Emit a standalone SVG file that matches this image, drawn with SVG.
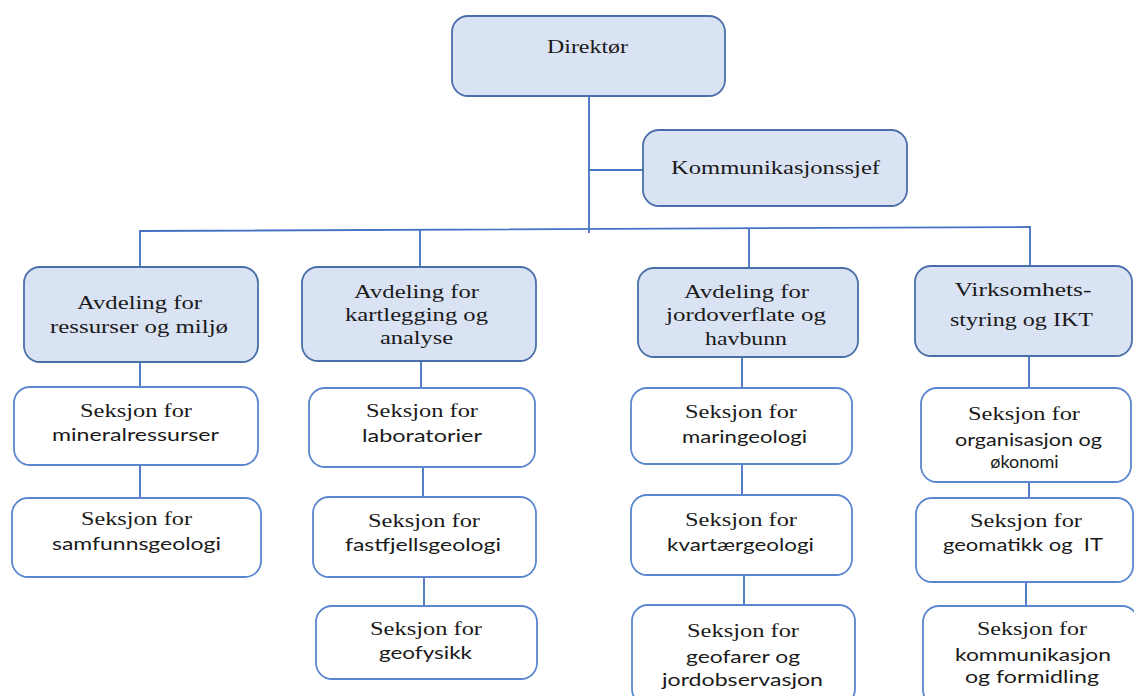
<svg xmlns="http://www.w3.org/2000/svg" width="1134" height="696" viewBox="0 0 1134 696">
  <style>
    .lead { fill: #dae3f3; stroke: #4a6fa8; stroke-width: 1.8; }
    .sect { fill: #ffffff; stroke: #5b87d0; stroke-width: 1.8; }
    .link { fill: none; stroke: #4472c4; stroke-width: 1.8; }
    text { fill: #1a1a1a; text-anchor: middle; }
    .sf { font-family: "Liberation Serif", "Times New Roman", serif; font-size: 18px; }
    .ss { font-family: Lato, "Liberation Sans", Arial, sans-serif; font-size: 18px; }
    .big { font-size: 19px; }
  </style>
  <rect width="1134" height="696" fill="#ffffff"/>

  <!-- connectors -->
  <g id="connectors">
    <path class="link" d="M589 96 V233"/>
    <path class="link" d="M589 170 H643"/>
    <path class="link" d="M140 268 V231 L1030 227 V266"/>
    <path class="link" d="M420 230 V267"/>
    <path class="link" d="M749 228 V268"/>
    <path class="link" d="M140 363 V387 M140 465 V498"/>
    <path class="link" d="M421 361 V388 M423 467 V497 M424 577 V606"/>
    <path class="link" d="M742 357 V388 M742 464 V495 M744 575 V605"/>
    <path class="link" d="M1029 356 V388 M1029 482 V498 M1026 582 V606"/>
  </g>

  <g id="direktor">
    <rect class="lead" x="452" y="16" width="273" height="80" rx="16"/>
    <text class="sf big" x="587.5" y="53" textLength="81" lengthAdjust="spacingAndGlyphs">Direktør</text>
  </g>
  <g id="kommunikasjonssjef">
    <rect class="lead" x="643" y="130" width="264" height="76" rx="16"/>
    <text class="sf big" x="775.5" y="174" textLength="209" lengthAdjust="spacingAndGlyphs">Kommunikasjonssjef</text>
  </g>

  <!-- departments -->
  <g id="avd-ressurser">
    <rect class="lead" x="24" y="267" width="234" height="95" rx="16"/>
    <text class="sf big" x="139.5" y="309" textLength="125" lengthAdjust="spacingAndGlyphs">Avdeling for</text>
    <text class="sf big" x="139" y="333" textLength="178" lengthAdjust="spacingAndGlyphs">ressurser og miljø</text>
  </g>
  <g id="avd-kartlegging">
    <rect class="lead" x="302" y="267" width="234" height="94" rx="16"/>
    <text class="sf big" x="416.5" y="298" textLength="125" lengthAdjust="spacingAndGlyphs">Avdeling for</text>
    <text class="sf big" x="416.5" y="321" textLength="143" lengthAdjust="spacingAndGlyphs">kartlegging og</text>
    <text class="sf big" x="416.5" y="344" textLength="73" lengthAdjust="spacingAndGlyphs">analyse</text>
  </g>
  <g id="avd-jordoverflate">
    <rect class="lead" x="638" y="268" width="220" height="89" rx="16"/>
    <text class="sf big" x="746.5" y="298" textLength="125" lengthAdjust="spacingAndGlyphs">Avdeling for</text>
    <text class="sf big" x="746" y="321" textLength="160" lengthAdjust="spacingAndGlyphs">jordoverflate og</text>
    <text class="sf big" x="746" y="345" textLength="82" lengthAdjust="spacingAndGlyphs">havbunn</text>
  </g>
  <g id="avd-virksomhetsstyring">
    <rect class="lead" x="915" y="266" width="217" height="90" rx="16"/>
    <text class="sf big" x="1023" y="296" textLength="137" lengthAdjust="spacingAndGlyphs">Virksomhets-</text>
    <text class="sf big" x="1021.5" y="326" textLength="143" lengthAdjust="spacingAndGlyphs">styring og IKT</text>
  </g>

  <!-- sections, column 1 -->
  <g id="sek-mineralressurser">
    <rect class="sect" x="14" y="387" width="244" height="78" rx="16"/>
    <text class="sf" x="136" y="417" textLength="112" lengthAdjust="spacingAndGlyphs">Seksjon for</text>
    <text class="ss" x="135.5" y="441" textLength="167" lengthAdjust="spacingAndGlyphs">mineralressurser</text>
  </g>
  <g id="sek-samfunnsgeologi">
    <rect class="sect" x="12" y="498" width="249" height="79" rx="16"/>
    <text class="sf" x="136.5" y="525" textLength="111" lengthAdjust="spacingAndGlyphs">Seksjon for</text>
    <text class="ss" x="136.5" y="550" textLength="169" lengthAdjust="spacingAndGlyphs">samfunnsgeologi</text>
  </g>

  <!-- sections, column 2 -->
  <g id="sek-laboratorier">
    <rect class="sect" x="309" y="388" width="226" height="79" rx="16"/>
    <text class="sf" x="422" y="417" textLength="112" lengthAdjust="spacingAndGlyphs">Seksjon for</text>
    <text class="ss" x="422" y="442" textLength="120" lengthAdjust="spacingAndGlyphs">laboratorier</text>
  </g>
  <g id="sek-fastfjellsgeologi">
    <rect class="sect" x="313" y="497" width="223" height="80" rx="16"/>
    <text class="sf" x="424" y="527" textLength="112" lengthAdjust="spacingAndGlyphs">Seksjon for</text>
    <text class="ss" x="423" y="551" textLength="156" lengthAdjust="spacingAndGlyphs">fastfjellsgeologi</text>
  </g>
  <g id="sek-geofysikk">
    <rect class="sect" x="316" y="606" width="221" height="73" rx="16"/>
    <text class="sf" x="426" y="635" textLength="112" lengthAdjust="spacingAndGlyphs">Seksjon for</text>
    <text class="ss" x="425.5" y="659" textLength="93" lengthAdjust="spacingAndGlyphs">geofysikk</text>
  </g>

  <!-- sections, column 3 -->
  <g id="sek-maringeologi">
    <rect class="sect" x="631" y="388" width="221" height="76" rx="16"/>
    <text class="sf" x="741" y="418" textLength="112" lengthAdjust="spacingAndGlyphs">Seksjon for</text>
    <text class="ss" x="744.5" y="443" textLength="125" lengthAdjust="spacingAndGlyphs">maringeologi</text>
  </g>
  <g id="sek-kvartaergeologi">
    <rect class="sect" x="631" y="495" width="221" height="80" rx="16"/>
    <text class="sf" x="741" y="526" textLength="112" lengthAdjust="spacingAndGlyphs">Seksjon for</text>
    <text class="ss" x="740.5" y="551" textLength="147" lengthAdjust="spacingAndGlyphs">kvartærgeologi</text>
  </g>
  <g id="sek-geofarer">
    <rect class="sect" x="632" y="605" width="223" height="100" rx="16"/>
    <text class="sf" x="743" y="637" textLength="112" lengthAdjust="spacingAndGlyphs">Seksjon for</text>
    <text class="ss" x="743" y="663" textLength="114" lengthAdjust="spacingAndGlyphs">geofarer og</text>
    <text class="ss" x="742.5" y="686" textLength="161" lengthAdjust="spacingAndGlyphs">jordobservasjon</text>
  </g>

  <!-- sections, column 4 -->
  <g id="sek-organisasjon">
    <rect class="sect" x="921" y="388" width="210" height="94" rx="16"/>
    <text class="sf" x="1024" y="420" textLength="112" lengthAdjust="spacingAndGlyphs">Seksjon for</text>
    <text class="ss" x="1028.5" y="446" textLength="147" lengthAdjust="spacingAndGlyphs">organisasjon og</text>
    <text class="ss" x="1024.5" y="468">økonomi</text>
  </g>
  <g id="sek-geomatikk">
    <rect class="sect" x="916" y="498" width="217" height="84" rx="16"/>
    <text class="sf" x="1026" y="527" textLength="112" lengthAdjust="spacingAndGlyphs">Seksjon for</text>
    <text class="ss" x="1023" y="551" textLength="160" lengthAdjust="spacingAndGlyphs" style="white-space:pre">geomatikk og  IT</text>
  </g>
  <g id="sek-kommunikasjon">
    <rect class="sect" x="923" y="606" width="215" height="100" rx="16"/>
    <text class="sf" x="1032" y="635" textLength="110" lengthAdjust="spacingAndGlyphs">Seksjon for</text>
    <text class="ss" x="1033" y="661" textLength="156" lengthAdjust="spacingAndGlyphs">kommunikasjon</text>
    <text class="ss" x="1032" y="683" textLength="134" lengthAdjust="spacingAndGlyphs">og formidling</text>
  </g>
</svg>
